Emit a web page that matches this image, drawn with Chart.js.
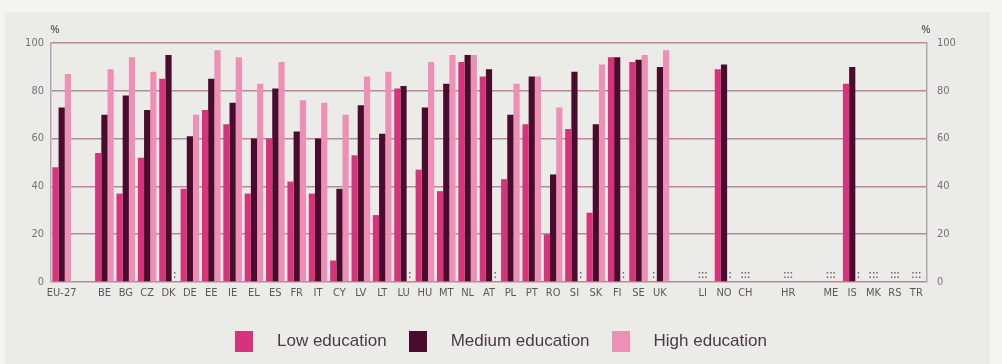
<!DOCTYPE html>
<html>
<head>
<meta charset="utf-8">
<script src="https://cdn.jsdelivr.net/npm/chart.js@4.4.1/dist/chart.umd.min.js"></script>
<style>
  html, body { margin: 0; padding: 0; background: #f4f4f1; }
  #wrap { position: relative; width: 1002px; height: 364px; overflow: hidden; }
  #panel { position: absolute; left: 5px; top: 12px; width: 985px; height: 352px; background: #ebece7; }
  #chart { position: absolute; left: 0; top: 0; }
  #legend {
    position: absolute; left: 0; top: 330px; width: 1002px; height: 22px;
    display: flex; justify-content: center; align-items: center;
    font-family: 'Liberation Sans', Arial, sans-serif; font-size: 17px; color: #4a3a48;
  }
  #legend .item { display: flex; align-items: center; margin: 0 11px; }
  #legend .box { width: 18px; height: 21px; margin-right: 24px; }
</style>
</head>
<body>
<div id="wrap">
  <div id="panel"></div>
  <canvas id="chart" width="1002" height="364"></canvas>
  <div id="legend"></div>
</div>
<script>
// country codes, blanks are the gaps between groups
const categories = ['EU-27', '', 'BE', 'BG', 'CZ', 'DK', 'DE', 'EE', 'IE', 'EL', 'ES', 'FR', 'IT', 'CY',
  'LV', 'LT', 'LU', 'HU', 'MT', 'NL', 'AT', 'PL', 'PT', 'RO', 'SI', 'SK', 'FI', 'SE', 'UK', '',
  'LI', 'NO', 'CH', '', 'HR', '', 'ME', 'IS', 'MK', 'RS', 'TR'];

// % values, null = not available (":")
const lowEdu = [48, null, 54, 37, 52, 85, 39, 72, 66, 37, 60, 42, 37, 9,
  53, 28, 81, 47, 38, 92, 86, 43, 66, 20, 64, 29, 94, 92, null, null,
  null, 89, null, null, null, null, null, 83, null, null, null];
const mediumEdu = [73, null, 70, 78, 72, 95, 61, 85, 75, 60, 81, 63, 60, 39,
  74, 62, 82, 73, 83, 95, 89, 70, 86, 45, 88, 66, 94, 93, 90, null,
  null, 91, null, null, null, null, null, 90, null, null, null];
const highEdu = [87, null, 89, 94, 88, null, 70, 97, 94, 83, 92, 76, 75, 70,
  86, 88, null, 92, 95, 95, null, 83, 86, 73, null, 91, null, 95, 97, null,
  null, null, null, null, null, null, null, null, null, null, null];

const yTicks = [0, 20, 40, 60, 80, 100];

const seriesNames = ['Low education', 'Medium education', 'High education'];
const seriesColors = ['#d6337a', '#4a0c2c', '#ee8fb6'];

const tickFont = { family: "'Liberation Sans Narrow', 'DejaVu Sans Condensed', 'Liberation Sans', sans-serif", size: 11 };
const gridColor = '#b6889f';

// draws ":" for missing values and ":::" when the whole country is missing
const missingMarks = {
  id: 'missingMarks',
  afterDatasetsDraw(chart) {
    const ctx = chart.ctx;
    const xs = chart.scales.x;
    const bottom = chart.chartArea.bottom;
    ctx.save();
    ctx.fillStyle = '#6b6068';
    ctx.font = "bold 10px 'Liberation Sans', sans-serif";
    ctx.textAlign = 'center';
    ctx.textBaseline = 'bottom';
    categories.forEach((c, i) => {
      if (!c) return;
      const sets = chart.data.datasets;
      const missing = sets.map(ds => ds.data[i] === null);
      if (missing.every(Boolean)) {
        ctx.fillText(':::', xs.getPixelForValue(i), bottom - 2);
        return;
      }
      missing.forEach((m, d) => {
        if (!m) return;
        const el = chart.getDatasetMeta(d).data[i];
        let x = el && isFinite(el.x) ? el.x : xs.getPixelForValue(i);
        ctx.fillText(':', x, bottom - 2);
      });
    });
    ctx.restore();
  }
};

const percentLabels = {
  id: 'percentLabels',
  afterDraw(chart) {
    const ctx = chart.ctx;
    const a = chart.chartArea;
    ctx.save();
    ctx.fillStyle = '#6b6068';
    ctx.font = "bold 10px 'Liberation Sans', sans-serif";
    ctx.textAlign = 'center';
    ctx.textBaseline = 'middle';
    ctx.fillText('%', a.left + 4, a.top - 13);
    ctx.fillText('%', a.right - 1, a.top - 13);
    ctx.restore();
  }
};

const yAxis = (pos, pad) => ({
  position: pos,
  min: 0,
  max: 100,
  afterBuildTicks(s) { s.ticks = yTicks.map(v => ({ value: v })); },
  ticks: { font: tickFont, color: '#7a6f78', padding: pad },
  grid: { display: pos === 'left', color: gridColor, lineWidth: 1.5, drawTicks: false },
  border: { display: true, color: '#b9a3b3', width: 1.5 }
});

const yLeft = yAxis('left', 7);
yLeft.afterFit = s => { s.width = 51; };
const yRight = yAxis('right', 10);
yRight.afterFit = s => { s.width = 75; };

new Chart(document.getElementById('chart'), {
  type: 'bar',
  data: {
    labels: categories,
    datasets: [lowEdu, mediumEdu, highEdu].map((d, k) => ({
      label: seriesNames[k],
      data: d,
      backgroundColor: seriesColors[k],
      borderWidth: 0
    }))
  },
  options: {
    responsive: false,
    animation: false,
    layout: { padding: { top: 43, bottom: 58, left: 0, right: 0 } },
    datasets: { bar: { categoryPercentage: 0.87, barPercentage: 1.0 } },
    scales: {
      x: {
        grid: { display: false, drawTicks: false },
        border: { display: false },
        ticks: { font: tickFont, color: '#5d5560', autoSkip: false, maxRotation: 0, padding: 5 },
        afterFit(s) { s.height = 24; }
      },
      y: yLeft,
      y2: yRight
    },
    plugins: {
      legend: { display: false },
      tooltip: { enabled: false }
    }
  },
  plugins: [missingMarks, percentLabels]
});

// legend below the chart
const legend = document.getElementById('legend');
seriesNames.forEach((name, k) => {
  const item = document.createElement('div');
  item.className = 'item';
  const box = document.createElement('span');
  box.className = 'box';
  box.style.background = seriesColors[k];
  const txt = document.createElement('span');
  txt.textContent = name;
  item.appendChild(box);
  item.appendChild(txt);
  legend.appendChild(item);
});
</script>
</body>
</html>
